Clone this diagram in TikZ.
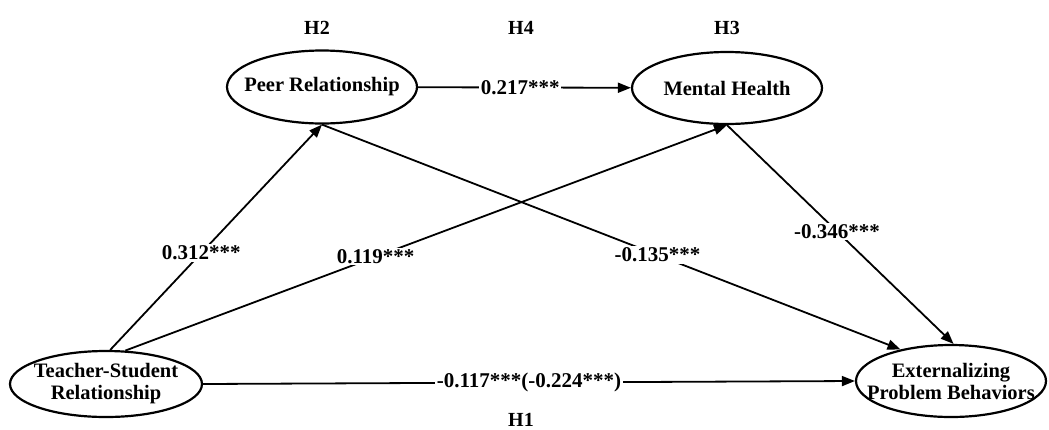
\documentclass[tikz,border=0pt]{standalone}
\usepackage{fontspec}
\setmainfont{Liberation Serif}
\usetikzlibrary{shapes.geometric,arrows.meta}
\begin{document}
\begin{tikzpicture}[x=1pt,y=-1pt,
  var/.style={draw,ellipse,line width=2.2pt,inner xsep=-40pt,inner ysep=-15pt,align=center,
    font=\fontsize{20.5}{22}\selectfont\bfseries},
  lab/.style={font=\fontsize{20}{22}\selectfont\bfseries},
  coef/.style={fill=white,inner sep=1.5pt,font=\fontsize{21}{22}\selectfont\bfseries},
  path/.style={line width=1.8pt,-{Triangle[length=13pt,width=10pt]}}]
\useasboundingbox (0,0) rectangle (1049,429);
\node[var,minimum width=192pt,minimum height=66pt] (ts) at (106,384) {Teacher-Student\\Relationship};
\node[var,minimum width=190pt,minimum height=72pt] (ex) at (951,381) {Externalizing\\Problem Behaviors};
\node[var,minimum width=190pt,minimum height=73pt] (pr) at (322,87) {Peer Relationship};
\node[var,minimum width=190pt,minimum height=72pt] (mh) at (727,88) {Mental Health};
\node[lab] (h2) at (317,28) {H2};
\node[lab] (h4) at (521,28) {H4};
\node[lab] (h3) at (727,28) {H3};
\node[lab] (h1) at (521,420) {H1};
\draw[path] (pr) -- node[coef,pos=0.48] {0.217***} (mh);
\draw[path] (ts.east) -- node[coef,pos=0.5] {-0.117***(-0.224***)} (ex.west);
\draw[path] (ts.83) -- node[coef,pos=0.43] {0.312***} (pr.south);
\draw[path] (ts.60) -- node[coef,pos=0.416] {0.119***} (mh.south);
\draw[path] (pr.south) -- node[coef,pos=0.58] {-0.135***} (ex.148);
\draw[path] (mh.south) -- node[coef,pos=0.485] {-0.346***} (ex.86);
\end{tikzpicture}
\end{document}
